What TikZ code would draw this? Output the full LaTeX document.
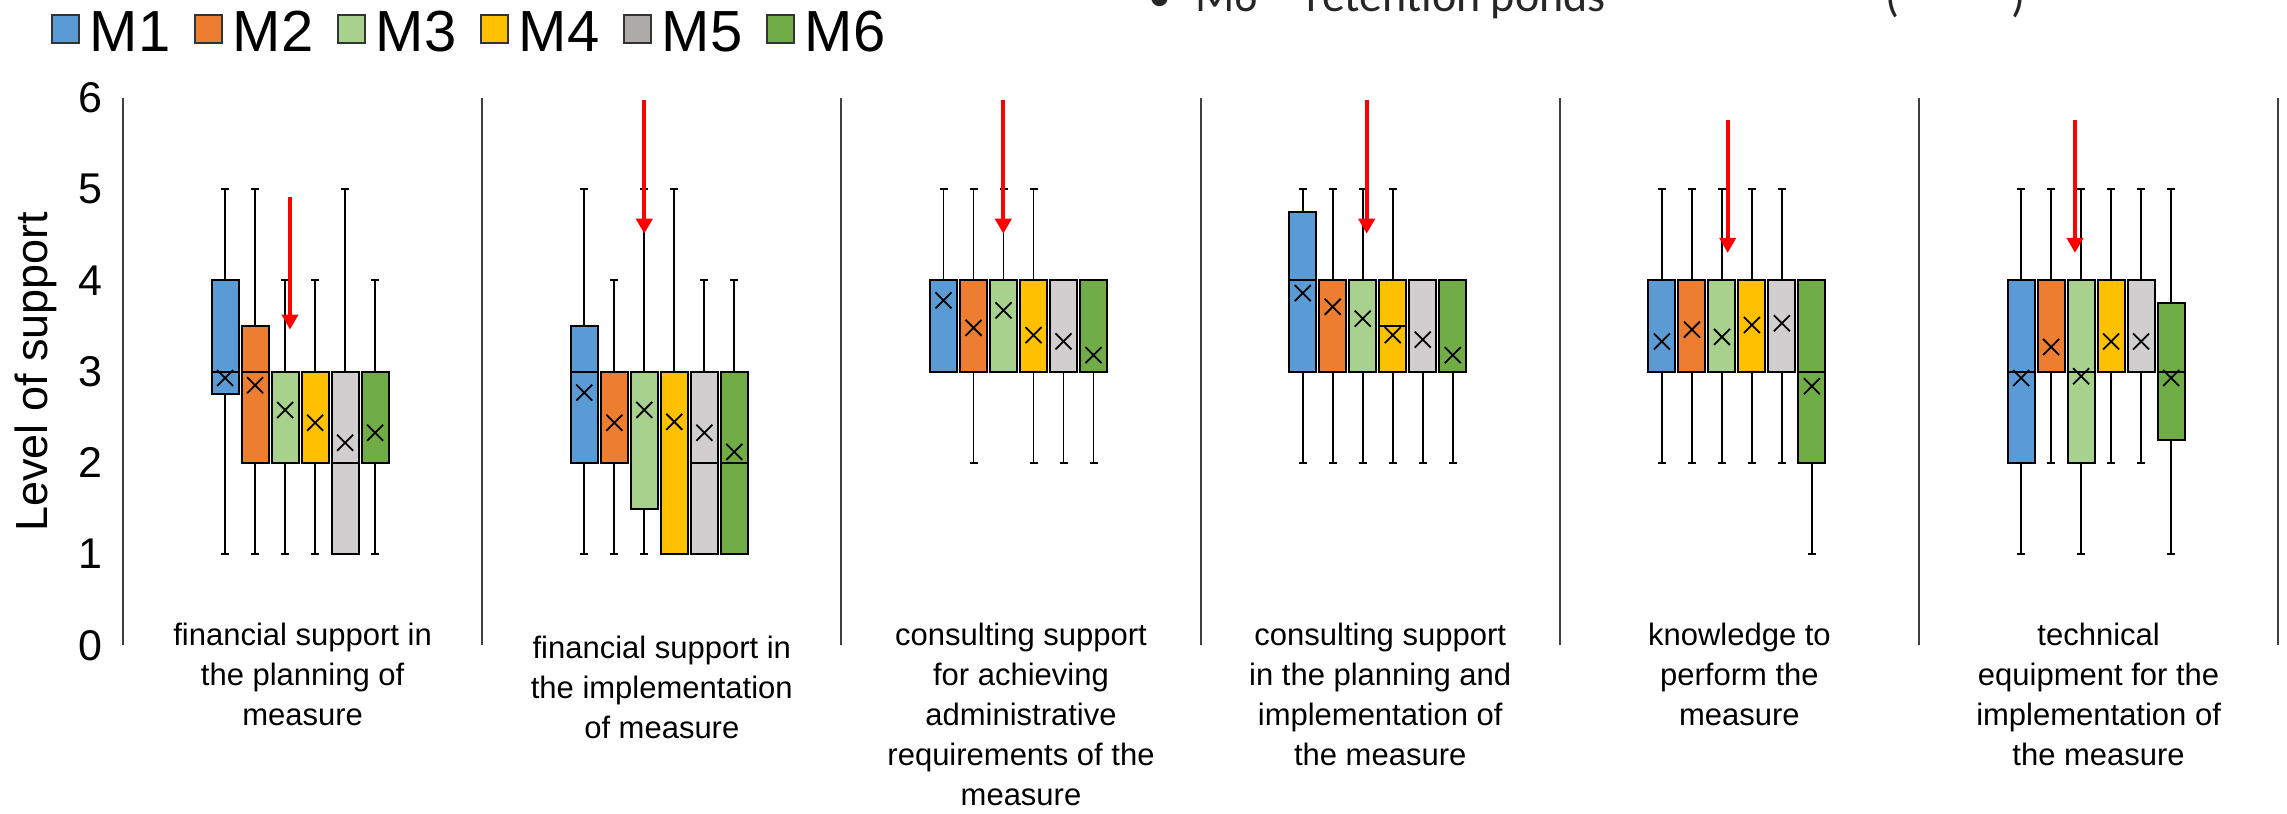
\documentclass[tikz,border=0pt]{standalone}
\usepackage{fontspec}
\setmainfont{Liberation Sans}
\newfontfamily\calfont{Carlito}
\usetikzlibrary{arrows.meta,positioning}
\definecolor{m1}{HTML}{5B9BD5}
\definecolor{m2}{HTML}{ED7D31}
\definecolor{m3}{HTML}{A9D18E}
\definecolor{m4}{HTML}{FFC000}
\definecolor{m5}{HTML}{D0CECE}
\definecolor{m5leg}{HTML}{AEAAAA}
\definecolor{m6}{HTML}{70AD47}
\definecolor{sepgray}{HTML}{404040}
\tikzstyle{bxbody} = [draw=black, line width=2pt]
\tikzstyle{whisk} = [draw=black, line width=1.8pt]
\tikzstyle{meanmark} = [draw=black, line width=1.8pt]
\tikzstyle{sep} = [draw=sepgray, line width=2pt]
\tikzstyle{redarrow} = [draw=red, line width=4pt, -{Triangle[width=16pt,length=15pt]}]
\tikzstyle{lbl} = [anchor=north, inner sep=0pt, align=center,
    font=\fontsize{31}{40}\selectfont]
\tikzstyle{ticklbl} = [inner sep=0pt, font=\fontsize{43}{50}\selectfont]
\tikzstyle{legsq} = [draw=black!80, line width=1.5pt]
\tikzstyle{legtxt} = [anchor=base west, inner sep=0pt, font=\fontsize{58}{64}\selectfont]
\tikzstyle{cuttxt} = [anchor=base west, inner sep=0pt, text=black!85,
    font=\calfont\fontsize{46}{50}\selectfont]

\begin{document}
\begin{tikzpicture}[x=1pt,y=1pt]
    % We start with the frame of the picture
    \useasboundingbox (0,0) rectangle (2287,814);
    \clip (0,0) rectangle (2287,814);
    % legend
    \foreach \k/\c in {1/m1,2/m2,3/m3,4/m4,5/m5leg,6/m6} {
        \draw[legsq, fill=\c] ({52+143*(\k-1)},771) rectangle ++(27,28);
        \node[legtxt] (leg\k) at ({89.7+143*(\k-1)},762) {M\k};
    }
    % the line of text cut off above
    \node[cuttxt] (bullet) at (1148,802) {\textbullet};
    \node[cuttxt] (cutline) at (1195,802) {M6 -- retention ponds};
    \node[cuttxt] (cutparen) at (1885,802) {(\hspace{112pt})};
    % plot area: one unit of y is one level of support
    \begin{scope}[shift={(0,168.5)}, y=91.3pt]
    \foreach \v in {0,...,6}
        \node[ticklbl] (t\v) at (90,\v) {\v};
    \node[rotate=90, anchor=base, inner sep=0pt,
        font=\fontsize{45}{54}\selectfont] (ytitle) at (47,3) {Level of support};
    \foreach \i in {0,...,6}
        \draw[sep] ({123+359.2*\i},0) -- ({123+359.2*\i},6);
    % boxes: group/method/low/q1/median/q3/high/mean
    \foreach \g/\k/\wl/\qa/\md/\qb/\wh/\mn in {
        1/1/1/2.75/3/4/5/2.93, 1/2/1/2/3/3.5/5/2.85, 1/3/1/2/3/3/4/2.58,
        1/4/1/2/3/3/4/2.44, 1/5/1/1/2/3/5/2.22, 1/6/1/2/2/3/4/2.33,
        2/1/1/2/3/3.5/5/2.77, 2/2/1/2/3/3/4/2.44, 2/3/1/1.5/3/3/5/2.58,
        2/4/1/1/3/3/5/2.45, 2/5/1/1/2/3/4/2.33, 2/6/1/1/2/3/4/2.12,
        3/1/3/3/4/4/5/3.78, 3/2/2/3/3/4/5/3.48, 3/3/3/3/4/4/5/3.67,
        3/4/2/3/3/4/5/3.40, 3/5/2/3/3/4/4/3.33, 3/6/2/3/3/4/4/3.18,
        4/1/2/3/4/4.75/5/3.86, 4/2/2/3/4/4/5/3.71, 4/3/2/3/4/4/5/3.58,
        4/4/2/3/3.5/4/5/3.40, 4/5/2/3/3/4/4/3.35, 4/6/2/3/3/4/4/3.18,
        5/1/2/3/3/4/5/3.33, 5/2/2/3/3/4/5/3.46, 5/3/2/3/3/4/5/3.38,
        5/4/2/3/4/4/5/3.51, 5/5/2/3/4/4/5/3.53, 5/6/1/2/3/4/4/2.84,
        6/1/1/2/3/4/5/2.93, 6/2/2/3/3/4/5/3.27, 6/3/1/2/3/4/5/2.95,
        6/4/2/3/3/4/5/3.33, 6/5/2/3/3/4/5/3.33, 6/6/1/2.25/3/3.75/5/2.93} {
        \pgfmathsetmacro\bx{302.6+359.2*(\g-1)-2.5+(\k-3.5)*30}
        \draw[whisk] (\bx,\wl) -- (\bx,\wh);
        \draw[whisk] ({\bx-4},\wl) -- ({\bx+4},\wl);
        \draw[whisk] ({\bx-4},\wh) -- ({\bx+4},\wh);
        \draw[bxbody, fill=m\k] ({\bx-13.5},\qa) rectangle ({\bx+13.5},\qb);
        \draw[bxbody] ({\bx-13.5},\md) -- ({\bx+13.5},\md);
        \draw[meanmark] (\bx,\mn) ++(-8pt,-8pt) -- ++(16pt,16pt)
            ++(-16pt,0pt) -- ++(16pt,-16pt);
    }
    % red arrows on M3
    \foreach \i/\ax/\ya/\yb in {1/290/4.91/3.46, 2/644.3/5.97/4.51,
        3/1003.3/5.97/4.51, 4/1366.7/5.97/4.51, 5/1727.7/5.76/4.30,
        6/2075/5.76/4.30} {
        \coordinate (from\i) at (\ax,\ya);
        \coordinate (to\i) at (\ax,\yb);
        \draw[redarrow] (from\i) -- (to\i);
    }
    \end{scope}
    % category labels under the groups
    \node[lbl] (lab1) at (302.6,197) {\strut financial support in\\the planning of\\measure};
    \node[lbl] (lab2) at (661.8,184) {\strut financial support in\\the implementation\\of measure};
    \node[lbl] (lab3) at (1021,197) {\strut consulting support\\for achieving\\administrative\\requirements of the\\measure};
    \node[lbl] (lab4) at (1380.2,197) {\strut consulting support\\in the planning and\\implementation of\\the measure};
    \node[lbl] (lab5) at (1739.4,197) {\strut knowledge to\\perform the\\measure};
    \node[lbl] (lab6) at (2098.6,197) {\strut technical\\equipment for the\\implementation of\\the measure};
\end{tikzpicture}
\end{document}
